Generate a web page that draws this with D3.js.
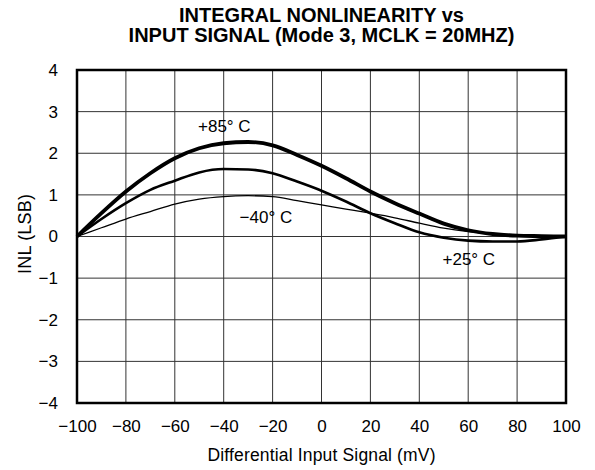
<!DOCTYPE html>
<html><head><meta charset="utf-8">
<script src="https://cdn.jsdelivr.net/npm/d3@7"></script>
<style>body{margin:0;background:#fff}text{font-family:"Liberation Sans",Arial,sans-serif}</style>
</head><body>
<svg id="c" width="595" height="470"></svg>
<script>
const xs = [-100,-90,-80,-70,-60,-50,-40,-30,-20,-10,0,10,20,30,40,50,60,70,80,90,100];
const inl85 = [0,0.56,1.08,1.52,1.88,2.12,2.24,2.27,2.19,1.96,1.7,1.4,1.08,0.8,0.55,0.31,0.15,0.06,0.02,0.01,0];
const inl25 = [0,0.42,0.8,1.12,1.34,1.54,1.62,1.61,1.52,1.32,1.1,0.84,0.56,0.32,0.1,-0.03,-0.1,-0.12,-0.12,-0.07,0];
const inlM40 = [0,0.21,0.42,0.6,0.78,0.9,0.96,0.98,0.96,0.86,0.76,0.66,0.56,0.45,0.32,0.2,0.12,0.07,0.04,0.02,0];
const xTicks = [-100,-80,-60,-40,-20,0,20,40,60,80,100];
const yTicks = [-4,-3,-2,-1,0,1,2,3,4];
const labels = [
  {t:"+85° C", x:-50.5, y:2.51},
  {t:"−40° C", x:-33.5, y:0.32},
  {t:"+25° C", x:49.5, y:-0.69}
];
const series = [
  {v:inl85, w:3.8},
  {v:inl25, w:2.6},
  {v:inlM40, w:1.3}
];

const svg = d3.select("#c");
const L=77, R=566, T=70, B=403;
const x = d3.scaleLinear().domain([-100,100]).range([L,R]);
const y = d3.scaleLinear().domain([-4,4]).range([B,T]);
const fmt = d => d<0 ? "−"+Math.abs(d) : String(d);

// grid
svg.append("g").selectAll("line").data(xTicks.slice(1,-1)).join("line")
  .attr("x1",d=>x(d)).attr("x2",d=>x(d)).attr("y1",T).attr("y2",B)
  .attr("stroke","#333").attr("stroke-width",1);
svg.append("g").selectAll("line").data(yTicks.slice(1,-1)).join("line")
  .attr("y1",d=>y(d)).attr("y2",d=>y(d)).attr("x1",L).attr("x2",R)
  .attr("stroke","#333").attr("stroke-width",1);

// axes labels
const xa = d3.axisBottom(x).tickValues(xTicks).tickFormat(fmt).tickSize(0).tickPadding(17);
const gx = svg.append("g").attr("transform",`translate(0,${B})`).call(xa);
gx.select(".domain").remove();
gx.selectAll("text").attr("font-size",17).attr("fill","#000").attr("font-family","Liberation Sans, Arial, sans-serif");
const ya = d3.axisLeft(y).tickValues(yTicks).tickFormat(fmt).tickSize(0).tickPadding(19);
const gy = svg.append("g").attr("transform",`translate(${L},0)`).call(ya);
gy.select(".domain").remove();
gy.selectAll("text").attr("font-size",17).attr("fill","#000").attr("font-family","Liberation Sans, Arial, sans-serif");

// frame
svg.append("rect").attr("x",L).attr("y",T).attr("width",R-L).attr("height",B-T)
  .attr("fill","none").attr("stroke","#000").attr("stroke-width",2.5);

// curves
const line = d3.line().x((d,i)=>x(xs[i])).y(d=>y(d)).curve(d3.curveMonotoneX);
svg.append("g").selectAll("path").data(series).join("path")
  .attr("d",d=>line(d.v)).attr("fill","none").attr("stroke","#000")
  .attr("stroke-width",d=>d.w).attr("stroke-linejoin","round");

// curve labels
svg.append("g").selectAll("text").data(labels).join("text")
  .attr("x",d=>x(d.x)).attr("y",d=>y(d.y)).attr("font-size",17).text(d=>d.t);

// titles
svg.append("text").attr("x",(L+R)/2).attr("y",22).attr("text-anchor","middle")
  .attr("font-size",20).attr("font-weight","bold").text("INTEGRAL NONLINEARITY vs");
svg.append("text").attr("x",(L+R)/2).attr("y",42).attr("text-anchor","middle")
  .attr("font-size",20).attr("font-weight","bold").text("INPUT SIGNAL (Mode 3, MCLK = 20MHZ)");
svg.append("text").attr("x",(L+R)/2).attr("y",461).attr("text-anchor","middle")
  .attr("font-size",17.5).attr("textLength",228).attr("lengthAdjust","spacing").text("Differential Input Signal (mV)");
svg.append("text").attr("transform",`translate(31,234) rotate(-90)`).attr("text-anchor","middle")
  .attr("font-size",18).attr("textLength",80).attr("lengthAdjust","spacing").text("INL (LSB)");
</script>
</body></html>
